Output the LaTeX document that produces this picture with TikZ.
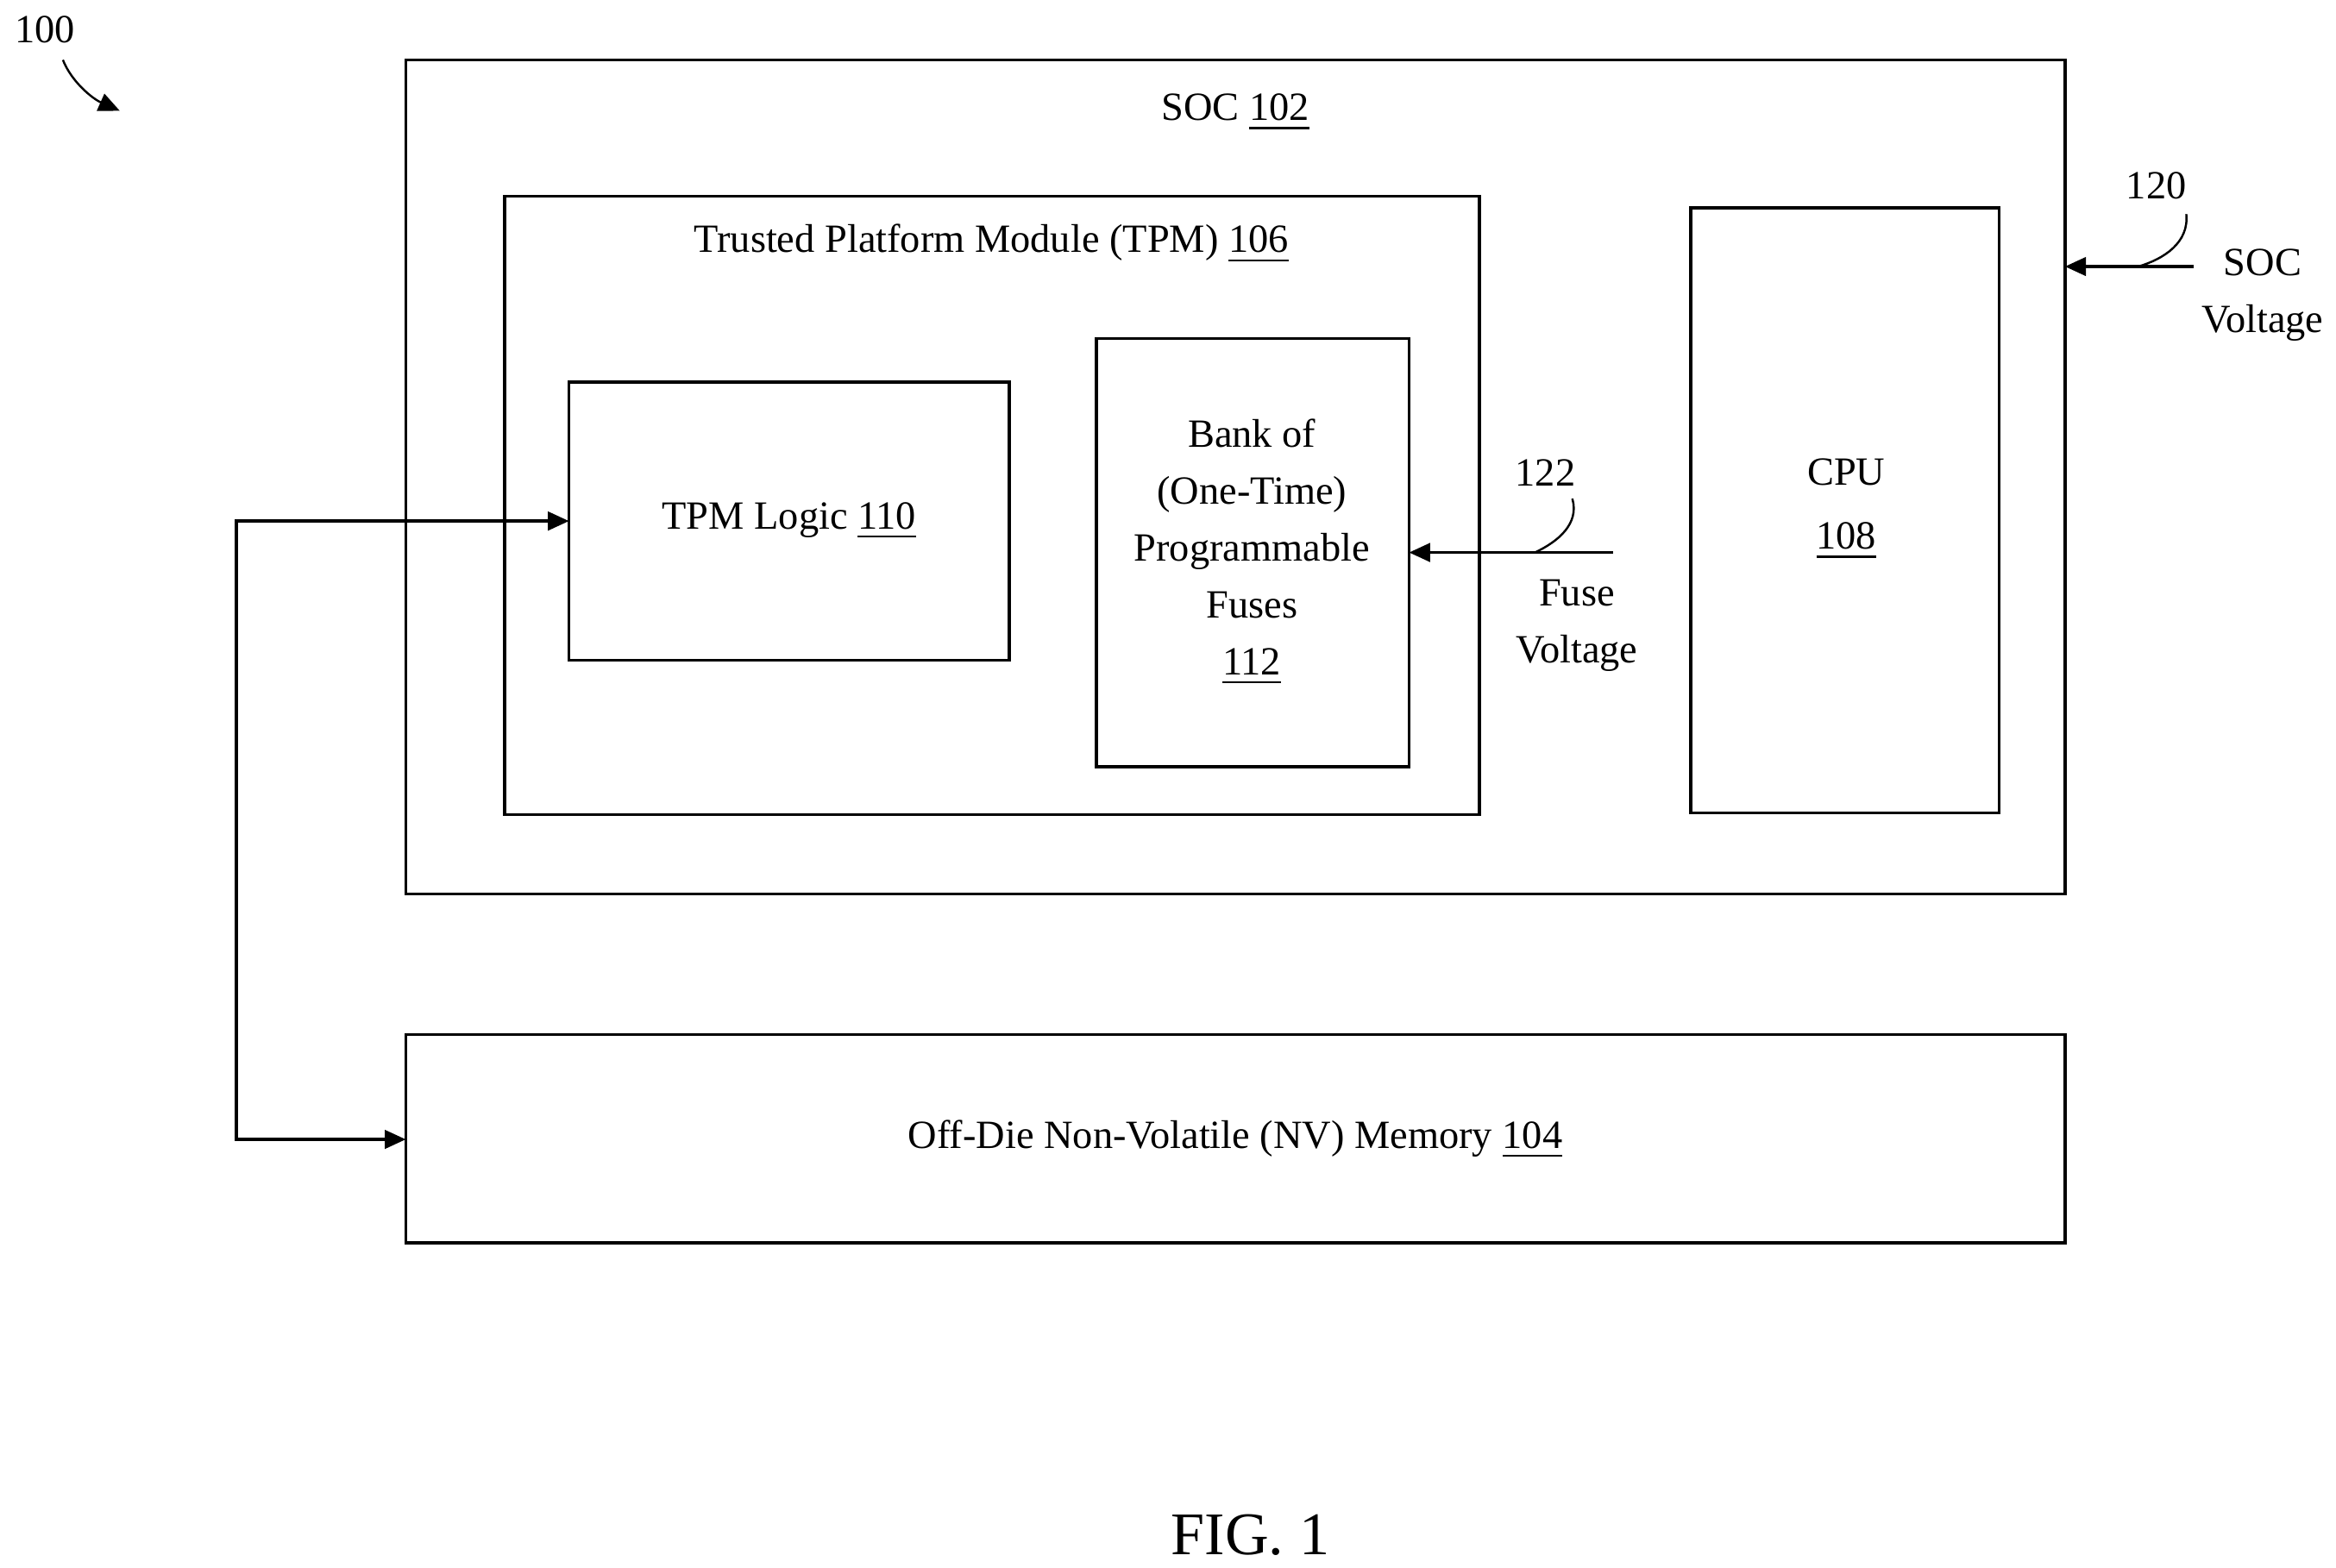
\documentclass[tikz,border=0pt]{standalone}
\usepackage{fontspec}
\setmainfont{Liberation Serif}
\usetikzlibrary{arrows.meta}
\begin{document}
\begin{tikzpicture}[x=0.01cm,y=-0.01cm,
  box/.style={draw,line width=0.6pt},
  lbl/.style={font=\fontsize{7.6}{9.2}\selectfont,align=center,inner sep=0pt},
  arr/.style={line width=0.6pt,-{Triangle[length=4pt,width=3.5pt]}},
  lead/.style={line width=0.4pt}]
\useasboundingbox (0,0) rectangle (1560,1047);
\draw[box] (271,40) rectangle (1379,597);
\draw[box] (337,131) rectangle (988,544);
\draw[box] (380,255) rectangle (674,441);
\draw[box] (732,226) rectangle (941,512);
\draw[box] (1129,139) rectangle (1335,543);
\draw[box] (271,691) rectangle (1379,830);
\node[lbl] (soc) at (825,75) {SOC \underline{102}};
\node[lbl] (tpm) at (662,163) {Trusted Platform Module (TPM) \underline{106}};
\node[lbl] (logic) at (527,348) {TPM Logic \underline{110}};
\node[lbl] (fuse) at (836,369) {Bank of\\[1.6pt](One-Time)\\[1.6pt]Programmable\\[1.6pt]Fuses\\[1.6pt]\underline{112}};
\node[lbl] (cpu) at (1233,340) {CPU\\[3pt]\underline{108}};
\node[lbl] (nv) at (825,761) {Off-Die Non-Volatile (NV) Memory \underline{104}};
\coordinate (la) at (380,348);
\coordinate (corner1) at (158,348);
\coordinate (corner2) at (158,761);
\coordinate (nva) at (271,761);
\draw[line width=0.6pt,{Triangle[length=4pt,width=3.5pt]}-{Triangle[length=4pt,width=3.5pt]}] (la) -- (corner1) -- (corner2) -- (nva);
\coordinate (fvs) at (1077,369);
\coordinate (fva) at (941,369);
\draw[arr] (fvs) -- (fva);
\node[lbl] (n122) at (1032,316) {122};
\draw[lead] (1050,333) .. controls (1055,350) and (1040,362) .. (1025,369);
\node[lbl] (fv) at (1053,418) {Fuse\\[1.6pt]Voltage};
\coordinate (svs) at (1465,178);
\coordinate (sva) at (1379,178);
\draw[arr] (svs) -- (sva);
\node[lbl] (n120) at (1440,124) {120};
\draw[lead] (1460,143) .. controls (1462,162) and (1445,173) .. (1428,178);
\node[lbl] (sv) at (1511,197) {SOC\\[1.6pt]Voltage};
\node[lbl] (n100) at (30,20) {100};
\draw[lead,-{Triangle[length=4pt,width=3.5pt]}] (42,40) .. controls (48,55) and (62,66) .. (80,74);
\node[lbl,font=\fontsize{11.5}{13}\selectfont] (fig) at (835,1025) {FIG. 1};
\end{tikzpicture}
\end{document}
